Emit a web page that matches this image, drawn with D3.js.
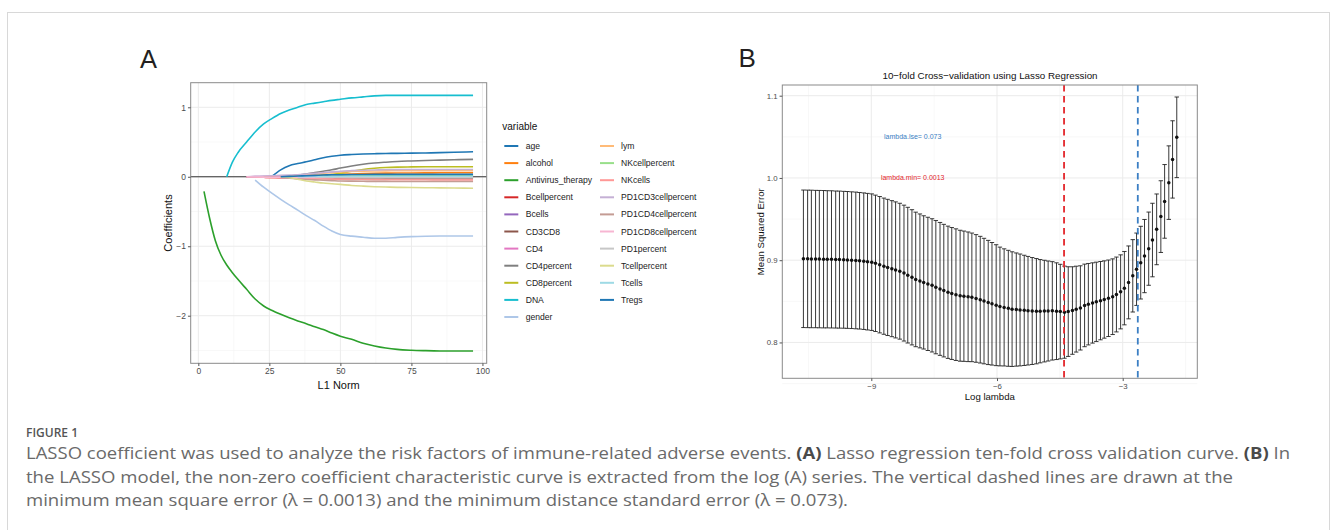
<!DOCTYPE html>
<html><head><meta charset="utf-8">
<script src="https://cdn.jsdelivr.net/npm/d3@7"></script>
<style>
body{margin:0;background:#fff}
svg{display:block}
text{font-family:"Liberation Sans",Arial,Helvetica,sans-serif}
</style></head><body>
<svg id="c" width="1331" height="530"></svg>
<script>
// ---------- Panel A data: L1 norm grid and coefficient paths ----------
const L1 = [2, 4, 6, 8, 10, 12, 14, 17, 20, 23, 26, 29, 32, 35, 38, 41, 44, 47, 50, 54, 58, 62, 66, 70, 75, 80, 85, 90, 96.7];
const n = null;
const varNames = ["age","alcohol","Antivirus_therapy","Bcellpercent","Bcells","CD3CD8","CD4","CD4percent","CD8percent","DNA","gender","lym","NKcellpercent","NKcells","PD1CD3cellpercent","PD1CD4cellpercent","PD1CD8cellpercent","PD1percent","Tcellpercent","Tcells","Tregs"];
const varColors = ["#1F77B4","#FF7F0E","#2CA02C","#D62728","#9467BD","#8C564B","#E377C2","#7F7F7F","#BCBD22","#17BECF","#AEC7E8","#FFBB78","#98DF8A","#FF9896","#C5B0D5","#C49C94","#F7B6D2","#C7C7C7","#DBDB8D","#9EDAE5","#1F77B4"];

const cAge = [n,n,n,n,n,n,n,n,n,n, 0.01,0.10,0.16,0.19,0.215,0.245,0.275,0.295,0.31,0.32,0.327,0.332,0.335,0.337,0.34,0.343,0.347,0.352,0.36];
const cAlcohol = [n,n,n,n,n,n,n,n,n,n,n, 0,0.005,0.01,0.015,0.02,0.025,0.03,0.035,0.04,0.045,0.05,0.052,0.054,0.055,0.056,0.057,0.058,0.058];
const cAntivirus = [-0.21,-0.60,-0.92,-1.13,-1.27,-1.38,-1.48,-1.62,-1.76,-1.86,-1.925,-1.98,-2.03,-2.075,-2.115,-2.16,-2.20,-2.25,-2.295,-2.34,-2.395,-2.435,-2.465,-2.485,-2.497,-2.503,-2.507,-2.508,-2.508];
const cBcellpercent = [n,n,n,n,n,n,n, 0,-0.005,-0.008,-0.01,-0.012,-0.013,-0.014,-0.015,-0.015,-0.015,-0.014,-0.012,-0.01,-0.008,-0.007,-0.006,-0.005,-0.005,-0.005,-0.005,-0.005,-0.005];
const cBcells = [n,n,n,n,n,n,n,n,n,n,n, 0,0.003,0.006,0.008,0.01,0.012,0.014,0.016,0.018,0.02,0.02,0.02,0.02,0.02,0.02,0.02,0.02,0.02];
const cCD3CD8 = [n,n,n,n,n,n,n,n,n,n,n,n,n, 0,-0.003,-0.006,-0.009,-0.012,-0.015,-0.017,-0.019,-0.02,-0.021,-0.022,-0.022,-0.022,-0.022,-0.022,-0.022];
const cCD4 = [n,n,n,n,n,n,n, 0,0.002,0.004,0.006,0.008,0.01,0.01,0.01,0.01,0.01,0.01,0.01,0.01,0.01,0.01,0.01,0.01,0.01,0.01,0.01,0.01,0.01];
const cCD4percent = [n,n,n,n,n,n,n,n,n,n,n, 0,0.01,0.025,0.04,0.06,0.08,0.10,0.125,0.155,0.18,0.198,0.21,0.22,0.228,0.235,0.24,0.245,0.25];
const cCD8percent = [n,n,n,n,n,n,n,n,n,n,n,n,n,n, 0,0.01,0.02,0.035,0.05,0.08,0.105,0.122,0.133,0.139,0.142,0.144,0.145,0.145,0.145];
const cDNA = [n,n,n,n, 0,0.21,0.35,0.50,0.645,0.76,0.84,0.91,0.96,1.00,1.04,1.06,1.08,1.10,1.115,1.135,1.15,1.165,1.172,1.172,1.171,1.171,1.171,1.171,1.171];
const cGender = [n,n,n,n,n,n,n,n, -0.047,-0.15,-0.24,-0.325,-0.405,-0.48,-0.56,-0.63,-0.71,-0.78,-0.83,-0.855,-0.87,-0.885,-0.885,-0.873,-0.862,-0.856,-0.853,-0.853,-0.853];
const cLym = [n,n,n,n,n,n,n,n,n,n,n, 0,0.01,0.02,0.03,0.04,0.05,0.06,0.07,0.075,0.08,0.083,0.085,0.086,0.087,0.088,0.088,0.088,0.088];
const cNKcellpercent = [n,n,n,n,n,n,n,n,n,n,n,n,n, 0,0.002,0.004,0.006,0.008,0.01,0.012,0.013,0.014,0.015,0.015,0.015,0.015,0.015,0.015,0.015];
const cNKcells = [n,n,n,n,n,n,n, 0,-0.004,-0.008,-0.012,-0.016,-0.02,-0.024,-0.027,-0.03,-0.032,-0.034,-0.036,-0.038,-0.04,-0.041,-0.042,-0.043,-0.044,-0.044,-0.045,-0.045,-0.045];
const cPD1CD3 = [n,n,n,n,n,n,n, 0,0.005,0.01,0.015,0.02,0.025,0.03,0.04,0.05,0.06,0.07,0.08,0.088,0.094,0.098,0.101,0.103,0.104,0.105,0.105,0.105,0.105];
const cPD1CD4 = [n,n,n,n,n,n,n,n,n, 0,-0.005,-0.01,-0.02,-0.03,-0.04,-0.045,-0.05,-0.055,-0.06,-0.063,-0.065,-0.067,-0.067,-0.068,-0.068,-0.068,-0.068,-0.068,-0.068];
const cPD1CD8 = [n,n,n,n,n,n,n, 0,-0.003,-0.005,-0.007,-0.008,-0.009,-0.01,-0.01,-0.01,-0.01,-0.01,-0.01,-0.01,-0.01,-0.01,-0.01,-0.01,-0.01,-0.01,-0.01,-0.01,-0.01];
const cPD1percent = [n,n,n,n,n,n,n,n,n,n,n,n,n,n,n, 0,-0.003,-0.006,-0.008,-0.01,-0.012,-0.013,-0.014,-0.015,-0.015,-0.015,-0.015,-0.015,-0.015];
const cTcellpercent = [n,n,n,n,n,n,n,n,n,n,n, 0,-0.01,-0.035,-0.06,-0.075,-0.09,-0.10,-0.11,-0.125,-0.135,-0.143,-0.148,-0.152,-0.155,-0.158,-0.16,-0.162,-0.165];
const cTcells = [n,n,n,n,n,n,n,n,n,n,n,n,n, 0,0.002,0.004,0.005,0.006,0.007,0.008,0.008,0.008,0.008,0.008,0.008,0.008,0.008,0.008,0.008];
const cTregs = [n,n,n,n,n,n,n,n,n,n,n, 0,0.005,0.01,0.015,0.02,0.025,0.028,0.03,0.032,0.033,0.034,0.034,0.035,0.035,0.035,0.035,0.035,0.035];
const coefSeries = [cAge,cAlcohol,cAntivirus,cBcellpercent,cBcells,cCD3CD8,cCD4,cCD4percent,cCD8percent,cDNA,cGender,cLym,cNKcellpercent,cNKcells,cPD1CD3,cPD1CD4,cPD1CD8,cPD1percent,cTcellpercent,cTcells,cTregs];

const xTicksA = [0, 25, 50, 75, 100];
const yTicksA = [-2, -1, 0, 1];

// ---------- Panel B data: cross-validation curve ----------
const logLambda = [-10.62,-10.52,-10.43,-10.33,-10.24,-10.14,-10.05,-9.95,-9.85,-9.76,
-9.66,-9.57,-9.47,-9.37,-9.28,-9.18,-9.09,-8.99,-8.90,-8.80,
-8.70,-8.61,-8.51,-8.42,-8.32,-8.22,-8.13,-8.03,-7.94,-7.84,
-7.75,-7.65,-7.55,-7.46,-7.36,-7.27,-7.17,-7.08,-6.98,-6.88,
-6.79,-6.69,-6.60,-6.50,-6.40,-6.31,-6.21,-6.12,-6.02,-5.93,
-5.83,-5.73,-5.64,-5.54,-5.45,-5.35,-5.26,-5.16,-5.06,-4.97,
-4.87,-4.78,-4.68,-4.58,-4.49,-4.39,-4.30,-4.20,-4.11,-4.01,
-3.91,-3.82,-3.72,-3.63,-3.53,-3.44,-3.34,-3.24,-3.15,-3.05,
-2.96,-2.86,-2.76,-2.67,-2.57,-2.48,-2.38,-2.29,-2.19,-2.09,
-2.00,-1.90,-1.81,-1.71];
const cvMean = [0.9017,0.9016,0.9015,0.9014,0.9013,0.9012,0.9011,0.9010,0.9008,0.9007,
0.9005,0.9003,0.9000,0.8997,0.8993,0.8988,0.8982,0.8976,0.8962,0.8945,
0.8927,0.8912,0.8897,0.8882,0.8866,0.8843,0.8818,0.8792,0.8766,0.8748,
0.8730,0.8712,0.8694,0.8672,0.8651,0.8630,0.8610,0.8595,0.8581,0.8568,
0.8562,0.8555,0.8548,0.8535,0.8520,0.8503,0.8486,0.8470,0.8453,0.8437,
0.8426,0.8415,0.8405,0.8400,0.8395,0.8390,0.8386,0.8382,0.8380,0.8380,
0.8381,0.8382,0.8384,0.8380,0.8375,0.8368,0.8375,0.8388,0.8405,0.8420,
0.8450,0.8465,0.8480,0.8494,0.8508,0.8522,0.8537,0.8556,0.8583,0.8615,
0.8660,0.8730,0.8810,0.8890,0.8970,0.9050,0.9140,0.9245,0.9375,0.9530,
0.9715,0.9943,1.0225,1.0494];
const cvSd = [0.0836,0.0836,0.0836,0.0835,0.0835,0.0835,0.0834,0.0834,0.0833,0.0833,
0.0832,0.0832,0.0831,0.0831,0.0830,0.0830,0.0830,0.0830,0.0829,0.0829,
0.0828,0.0828,0.0827,0.0827,0.0826,0.0826,0.0825,0.0822,0.0818,0.0814,
0.0810,0.0810,0.0810,0.0810,0.0808,0.0806,0.0804,0.0802,0.0800,0.0796,
0.0792,0.0788,0.0782,0.0776,0.0770,0.0763,0.0755,0.0745,0.0735,0.0722,
0.0712,0.0705,0.0697,0.0688,0.0680,0.0670,0.0660,0.0650,0.0640,0.0628,
0.0618,0.0608,0.0598,0.0588,0.0575,0.0560,0.0545,0.0532,0.0522,0.0512,
0.0502,0.0495,0.0488,0.0482,0.0476,0.0470,0.0465,0.0460,0.0455,0.0450,
0.0446,0.0443,0.0440,0.0440,0.0442,0.0445,0.0445,0.0447,0.0430,0.0436,
0.0448,0.0447,0.0470,0.0490];
const lambdaMinLog = -4.40;
const lambda1seLog = -2.64;
const xTicksB = [-9, -6, -3];
const yTicksB = [0.8, 0.9, 1.0, 1.1];

const captionLines = [
  [["LASSO coefficient was used to analyze the risk factors of immune-related adverse events. ",false],["(A)",true],[" Lasso regression ten-fold cross validation curve. ",false],["(B)",true],[" In",false]],
  [["the LASSO model, the non-zero coefficient characteristic curve is extracted from the log (A) series. The vertical dashed lines are drawn at the",false]],
  [["minimum mean square error (\u03bb = 0.0013) and the minimum distance standard error (\u03bb = 0.073).",false]]
];

// ---------- drawing ----------
const svg = d3.select("#c");
svg.append("rect").attr("width",1331).attr("height",530).attr("fill","#fff");
svg.append("rect").attr("x",7.5).attr("y",12.5).attr("width",1322).attr("height",530)
  .attr("fill","none").attr("stroke","#d8d8d8").attr("stroke-width",1);

function panelFrame(g, x, y, xMajor, xMinor, yMajor, yMinor){
  const [x0,x1] = x.range(), [y1,y0] = y.range();
  g.append("rect").attr("x",x0).attr("y",y0).attr("width",x1-x0).attr("height",y1-y0).attr("fill","#fff");
  xMinor.forEach(v=>g.append("line").attr("x1",x(v)).attr("x2",x(v)).attr("y1",y0).attr("y2",y1).attr("stroke","#f3f3f3").attr("stroke-width",0.6));
  yMinor.forEach(v=>g.append("line").attr("y1",y(v)).attr("y2",y(v)).attr("x1",x0).attr("x2",x1).attr("stroke","#f3f3f3").attr("stroke-width",0.6));
  xMajor.forEach(v=>g.append("line").attr("x1",x(v)).attr("x2",x(v)).attr("y1",y0).attr("y2",y1).attr("stroke","#ebebeb").attr("stroke-width",1));
  yMajor.forEach(v=>g.append("line").attr("y1",y(v)).attr("y2",y(v)).attr("x1",x0).attr("x2",x1).attr("stroke","#ebebeb").attr("stroke-width",1));
}
function panelBorder(g, x, y){
  const [x0,x1] = x.range(), [y1,y0] = y.range();
  g.append("rect").attr("x",x0).attr("y",y0).attr("width",x1-x0).attr("height",y1-y0)
   .attr("fill","none").attr("stroke","#8a8a8a").attr("stroke-width",1);
}
function axes(g, x, y, xt, yt, fs, yfmt){
  const [x0,x1] = x.range(), [y1,y0] = y.range();
  const ax = g.append("g").attr("transform",`translate(0,${y1})`)
    .call(d3.axisBottom(x).tickValues(xt).tickSize(2.75).tickPadding(2));
  const ay = g.append("g").attr("transform",`translate(${x0},0)`)
    .call(d3.axisLeft(y).tickValues(yt).tickSize(2.75).tickPadding(2).tickFormat(yfmt));
  [ax,ay].forEach(a=>{
    a.select(".domain").remove();
    a.selectAll("line").attr("stroke","#555");
    a.selectAll("text").attr("fill","#4d4d4d").style("font-size",fs+"px").style("font-family",'"Liberation Sans",Arial,sans-serif');
  });
}

// Panel A
const gA = svg.append("g");
const xA = d3.scaleLinear().domain([-2.68,101.5]).range([190.7,486.7]);
const yA = d3.scaleLinear().domain([-2.685,1.354]).range([363.3,82.7]);
panelFrame(gA, xA, yA, xTicksA, [12.5,37.5,62.5,87.5], yTicksA, [-2.5,-1.5,-0.5,0.5]);
gA.append("line").attr("x1",190.7).attr("x2",486.7).attr("y1",yA(0)).attr("y2",yA(0)).attr("stroke","#333").attr("stroke-width",1);
const lineA = d3.line().defined(d=>d[1]!==null).x(d=>xA(d[0])).y(d=>yA(d[1])).curve(d3.curveMonotoneX);
coefSeries.forEach((s,i)=>{
  gA.append("path").attr("d", lineA(L1.map((v,j)=>[v,s[j]])))
    .attr("fill","none").attr("stroke",varColors[i]).attr("stroke-width",1.6).attr("stroke-linejoin","round");
});
panelBorder(gA, xA, yA);
axes(gA, xA, yA, xTicksA, yTicksA, 8.5, d3.format("d"));
gA.append("text").attr("x",338.7).attr("y",388.5).attr("text-anchor","middle").style("font-size","11px").attr("fill","#111").text("L1 Norm");
gA.append("text").attr("transform","translate(171.5,223) rotate(-90)").attr("text-anchor","middle").style("font-size","11px").attr("fill","#111").text("Coefficients");
svg.append("text").attr("x",140).attr("y",68.3).style("font-size","25.5px").attr("fill","#231f20").text("A");

// Legend
const lg = svg.append("g");
lg.append("text").attr("x",502.3).attr("y",130).style("font-size","10px").attr("fill","#111").text("variable");
varNames.forEach((nm,i)=>{
  const col = i<11 ? 0 : 1, row = i<11 ? i : i-11;
  const kx = col===0 ? 504.3 : 600, tx = col===0 ? 525.7 : 621;
  const yy = 146 + row*17.1;
  lg.append("line").attr("x1",kx).attr("x2",kx+14).attr("y1",yy).attr("y2",yy).attr("stroke",varColors[i]).attr("stroke-width",2);
  lg.append("text").attr("x",tx).attr("y",yy+3).style("font-size","8.6px").attr("fill","#222").text(nm);
});

// Panel B
const gB = svg.append("g");
const xB = d3.scaleLinear().domain([-11.124,-1.22]).range([782.3,1197.3]);
const yB = d3.scaleLinear().domain([0.7564,1.113]).range([378.3,85]);
panelFrame(gB, xB, yB, xTicksB, [-10.5,-7.5,-4.5,-1.5], yTicksB, [0.75,0.85,0.95,1.05]);
const cv = logLambda.map((v,i)=>({x:v,m:cvMean[i],s:cvSd[i]}));
const eb = gB.append("g").attr("stroke","#222").attr("stroke-width",0.9);
cv.forEach(d=>{
  const px = xB(d.x), yt = yB(d.m+d.s), yb = yB(d.m-d.s);
  eb.append("line").attr("x1",px).attr("x2",px).attr("y1",yt).attr("y2",yb);
  eb.append("line").attr("x1",px-2.2).attr("x2",px+2.2).attr("y1",yt).attr("y2",yt);
  eb.append("line").attr("x1",px-2.2).attr("x2",px+2.2).attr("y1",yb).attr("y2",yb);
});
gB.append("g").selectAll("circle").data(cv).join("circle")
  .attr("cx",d=>xB(d.x)).attr("cy",d=>yB(d.m)).attr("r",1.75).attr("fill","#111");
gB.append("line").attr("x1",xB(lambdaMinLog)).attr("x2",xB(lambdaMinLog)).attr("y1",85).attr("y2",378.3)
  .attr("stroke","#e3262c").attr("stroke-width",1.8).attr("stroke-dasharray","6.5,4.5");
gB.append("line").attr("x1",xB(lambda1seLog)).attr("x2",xB(lambda1seLog)).attr("y1",85).attr("y2",378.3)
  .attr("stroke","#3b7fc4").attr("stroke-width",1.8).attr("stroke-dasharray","6.5,4.5");
panelBorder(gB, xB, yB);
axes(gB, xB, yB, xTicksB, yTicksB, 7.8, d3.format(".1f"));
gB.append("text").attr("x",912.7).attr("y",139).attr("text-anchor","middle").style("font-size","7px").attr("fill","#3b7fc4").text("lambda.lse= 0.073");
gB.append("text").attr("x",912.7).attr("y",179.6).attr("text-anchor","middle").style("font-size","7px").attr("fill","#e3262c").text("lambda.min= 0.0013");
gB.append("text").attr("x",990).attr("y",79.3).attr("text-anchor","middle").style("font-size","9.8px").attr("fill","#111").text("10\u2212fold Cross\u2212validation using Lasso Regression");
gB.append("text").attr("x",989.8).attr("y",400).attr("text-anchor","middle").style("font-size","9.6px").attr("fill","#111").text("Log lambda");
gB.append("text").attr("transform","translate(764,231.7) rotate(-90)").attr("text-anchor","middle").style("font-size","9.6px").attr("fill","#111").text("Mean Squared Error");
svg.append("text").attr("x",738.5).attr("y",67.3).style("font-size","26px").attr("fill","#231f20").text("B");

// Caption
svg.append("text").attr("x",26).attr("y",436.5).style("font-family",'"Open Sans",Lato,sans-serif').style("font-size","12px").style("font-weight","600").attr("fill","#555").text("FIGURE 1");
const capW = [1264, 1207, 822];
const capY = [459, 482.5, 506];
captionLines.forEach((ln,i)=>{
  const t = svg.append("text").attr("x",26).attr("y",capY[i])
    .style("font-family",'"Open Sans",Lato,sans-serif').style("font-size","16.6px")
    .attr("fill","#6a6a6a").attr("textLength",capW[i]).attr("lengthAdjust","spacingAndGlyphs");
  ln.forEach(([s,b])=>{ t.append("tspan").style("font-weight", b?"700":"400").attr("fill", b?"#4a4a4a":"#6a6a6a").text(s); });
});
</script>
</body></html>
